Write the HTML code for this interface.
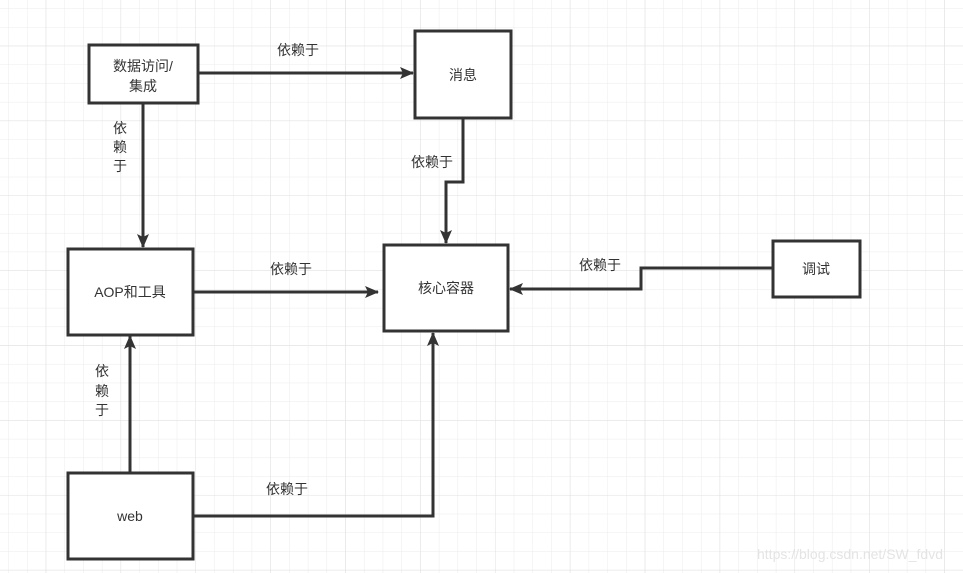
<!DOCTYPE html>
<html><head><meta charset="utf-8"><style>
body{margin:0;width:963px;height:573px;overflow:hidden;background:#fff;font-family:"Liberation Sans","Noto Sans CJK SC",sans-serif;}
</style></head><body>
<svg width="963" height="573" xmlns="http://www.w3.org/2000/svg" style="position:absolute;left:0;top:0">
<defs>
<pattern id="g" x="8.3" y="8.3" width="18.72" height="18.72" patternUnits="userSpaceOnUse">
<path d="M0 0H18.72M0 0V18.72" stroke="#ebebeb" stroke-width="1" fill="none"/>
</pattern>
<pattern id="G" x="45.7" y="45.7" width="74.88" height="74.88" patternUnits="userSpaceOnUse">
<path d="M0 0H74.88M0 0V74.88" stroke="#e0e0e0" stroke-width="1" fill="none"/>
</pattern>
<marker id="a" markerWidth="10" markerHeight="10" refX="9" refY="5" orient="auto" markerUnits="userSpaceOnUse">
<path d="M0 0L10 5L0 10z" fill="#333"/>
</marker>
<marker id="b" markerWidth="14" markerHeight="12" refX="13" refY="6" orient="auto" markerUnits="userSpaceOnUse">
<path d="M0 0L14 6L0 12L3 6z" fill="#333"/>
</marker>
</defs>
<rect width="963" height="573" fill="url(#g)"/>
<rect width="963" height="573" fill="url(#G)"/>
<g fill="#fff" stroke="#333" stroke-width="3">
<rect x="89" y="45" width="109" height="58"/>
<rect x="415" y="31" width="96" height="87"/>
<rect x="68" y="249" width="125" height="86"/>
<rect x="384" y="245" width="124" height="86"/>
<rect x="773" y="241" width="87" height="56"/>
<rect x="68" y="473" width="125" height="86"/>
</g>
<g fill="none" stroke="#333" stroke-width="3" marker-end="url(#b)">
<path d="M198 73H413"/>
<path d="M143 103V247"/>
<path d="M463 118V182H446V243"/>
<path d="M193 292H378"/>
<path d="M773 268H641V289H510"/>
<path d="M130 472V336"/>
<path d="M193 516H433V333"/>
</g>
<g font-size="14" fill="#333" text-anchor="middle">
<text x="143" y="71">数据访问/</text>
<text x="143" y="91">集成</text>
<text x="463" y="80">消息</text>
<text x="130" y="297">AOP和工具</text>
<text x="446" y="293">核心容器</text>
<text x="816" y="274">调试</text>
<text x="130" y="521">web</text>
<text x="298" y="55">依赖于</text>
<text x="432" y="167">依赖于</text>
<text x="291" y="274">依赖于</text>
<text x="600" y="270">依赖于</text>
<text x="287" y="494">依赖于</text>
<text x="120" y="133">依</text><text x="120" y="152">赖</text><text x="120" y="171">于</text>
<text x="102" y="376">依</text><text x="102" y="396">赖</text><text x="102" y="415">于</text>
</g>
<text x="850" y="559" font-size="14" fill="#e4e4e4" text-anchor="middle">https://blog.csdn.net/SW_fdvd</text>
</svg>
</body></html>
